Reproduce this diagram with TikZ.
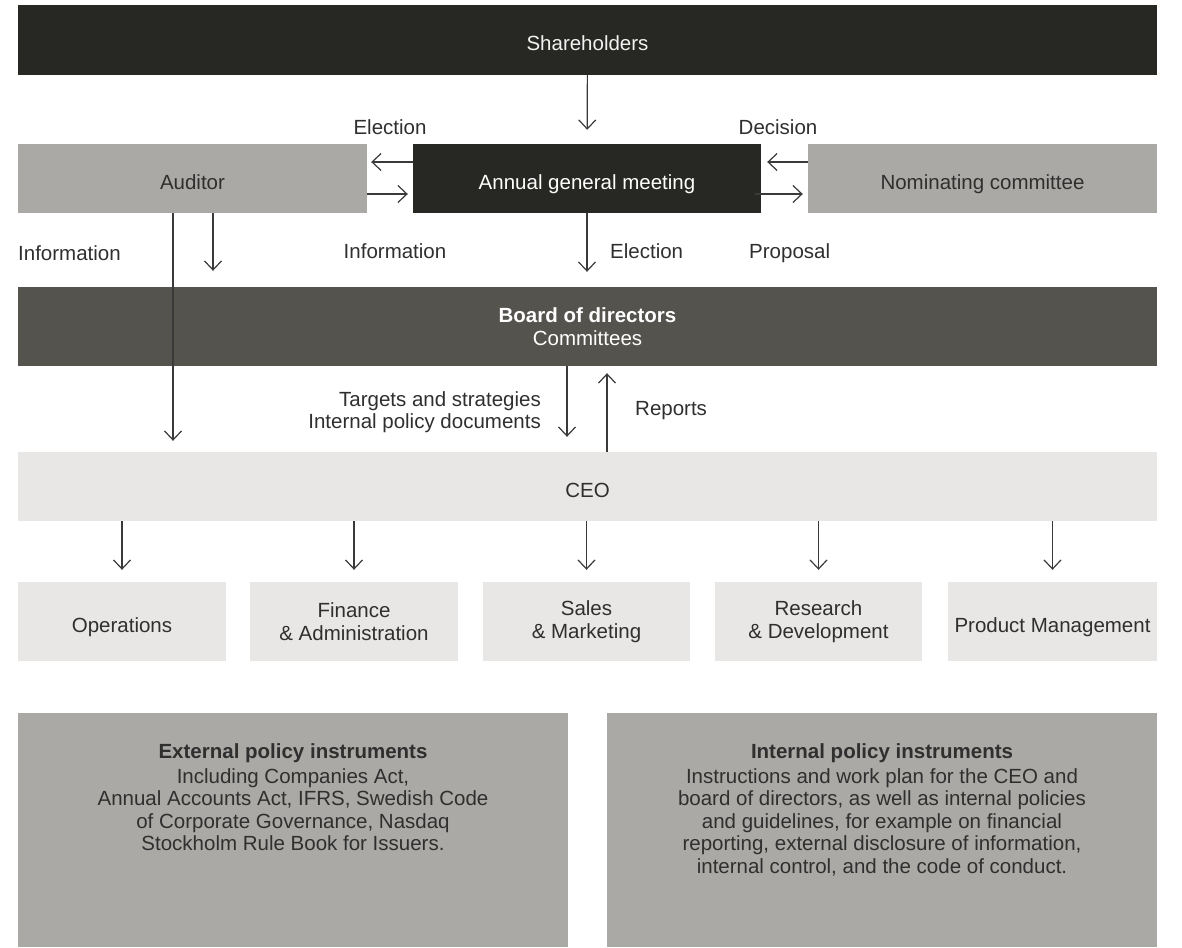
\documentclass[tikz,border=0pt]{standalone}
\usepackage{fontspec}
\setmainfont{Liberation Sans}
\usetikzlibrary{arrows.meta}
\definecolor{cdark}{HTML}{272723}
\definecolor{cboard}{HTML}{54534D}
\definecolor{cgray}{HTML}{AAA9A6}
\definecolor{clight}{HTML}{E8E7E5}
\definecolor{ctext}{HTML}{2F2F2F}
\definecolor{cline}{HTML}{3A3A3A}
\begin{document}
\begin{tikzpicture}[x=1pt,y=-1pt,
    every node/.style={font=\fontsize{20.5}{22.5}\selectfont, text=ctext, inner sep=0pt},
    box/.style={rectangle, align=center},
    onebox/.style={rectangle, text height=21pt, text depth=0pt},
    lbl/.style={align=center},
    arr/.style={draw=cline, line width=1.2pt, -{Straight Barb[length=9pt,width=17pt,line width=1.2pt]}}]
	\useasboundingbox (0,0) rectangle (1182,947);
	% top row
	\node[onebox, fill=cdark, text=white!90!gray, minimum width=1139pt, minimum height=70pt] (SH) at (587.5,40) {Shareholders};
	\node[onebox, fill=cgray, minimum width=349pt, minimum height=69pt] (AU) at (192.5,178.5) {Auditor};
	\node[onebox, fill=cdark, text=white, minimum width=348pt, minimum height=69pt] (AGM) at (587,178.5) {Annual general meeting};
	\node[onebox, fill=cgray, minimum width=349pt, minimum height=69pt] (NC) at (982.5,178.5) {Nominating committee};
	\node[box, fill=cboard, text=white, minimum width=1139pt, minimum height=79pt] (BD) at (587.5,326.5) {\textbf{Board of directors}\\Committees};
	\node[onebox, fill=clight, minimum width=1139pt, minimum height=69pt] (CEO) at (587.5,486.5) {CEO};
	% units
	\node[onebox, fill=clight, minimum width=208pt, minimum height=79pt] (OP) at (122,621.5) {Operations};
	\node[box, fill=clight, minimum width=208pt, minimum height=79pt] (FA) at (354,621.5) {Finance\\\& Administration};
	\node[box, fill=clight, minimum width=207pt, minimum height=79pt] (SM) at (586.5,621.5) {Sales\\\& Marketing};
	\node[box, fill=clight, minimum width=207pt, minimum height=79pt] (RD) at (818.5,621.5) {Research\\\& Development};
	\node[onebox, fill=clight, minimum width=209pt, minimum height=79pt] (PM) at (1052.5,621.5) {Product Management};
	% policy boxes
	\node[box, fill=cgray, minimum width=550pt, minimum height=234pt] (EX) at (293,830) {};
	\node[box, fill=cgray, minimum width=550pt, minimum height=234pt] (IN) at (882,830) {};
	\node[lbl, anchor=north] (EXT) at ([yshift=-31pt]EX.north) {\textbf{External policy instruments}\\[2pt]
		Including Companies Act,\\Annual Accounts Act, IFRS, Swedish Code\\of Corporate Governance, Nasdaq\\Stockholm Rule Book for Issuers.};
	\node[lbl, anchor=north] (INT) at ([yshift=-31pt]IN.north) {\textbf{Internal policy instruments}\\[2pt]
		Instructions and work plan for the CEO and\\board of directors, as well as internal policies\\and guidelines, for example on financial\\reporting, external disclosure of information,\\internal control, and the code of conduct.};
	% labels
	\node[lbl] (LE1) at (390,127) {Election};
	\node[lbl] (LD) at (778,127) {Decision};
	\node[lbl, anchor=west] (LI1) at (18,253) {Information};
	\node[lbl] (LI2) at (395,251) {Information};
	\node[lbl, anchor=west] (LE2) at (610,251) {Election};
	\node[lbl, anchor=west] (LP) at (749,253) {Proposal};
	\node[lbl, align=right, anchor=east] (LT) at (541,412) {Targets and strategies\\Internal policy documents};
	\node[lbl, anchor=west] (LR) at (635,411) {Reports};
	
	\draw[arr, shorten >=14pt] (SH) -- (AGM);
	\draw[arr, shorten >=4pt] ([yshift=16.5pt]AGM.west) -- ([yshift=16.5pt]AU.east);
	\draw[arr, shorten >=5pt] ([yshift=-15.5pt]AU.east) -- ([yshift=-15.5pt]AGM.west);
	\draw[arr, shorten >=6pt] ([yshift=16.5pt]NC.west) -- ([yshift=16.5pt]AGM.east);
	\draw[arr, shorten >=5pt, shorten <=-6pt] ([yshift=-15.5pt]AGM.east) -- ([yshift=-15.5pt]NC.west);
	\draw[arr, shorten >=15pt] (AGM) -- (AGM |- BD.north);
	\draw[arr, shorten >=11pt] ([xshift=-19.5pt]AU.south) -- ([xshift=-19.5pt]AU.south |- CEO.north);
	\draw[arr, shorten >=16pt] ([xshift=20.5pt]AU.south) -- ([xshift=20.5pt]AU.south |- BD.north);
	\draw[arr, shorten >=15pt] ([xshift=-20.5pt]BD.south) -- ([xshift=-20.5pt]BD.south |- CEO.north);
	\draw[arr, shorten >=7pt] ([xshift=19.5pt]CEO.north) -- ([xshift=19.5pt]CEO.north |- BD.south);
	\foreach \u in {OP,FA,SM,RD,PM}
		\draw[arr, shorten >=12pt] (\u.north |- CEO.south) -- (\u.north);
\end{tikzpicture}
\end{document}
